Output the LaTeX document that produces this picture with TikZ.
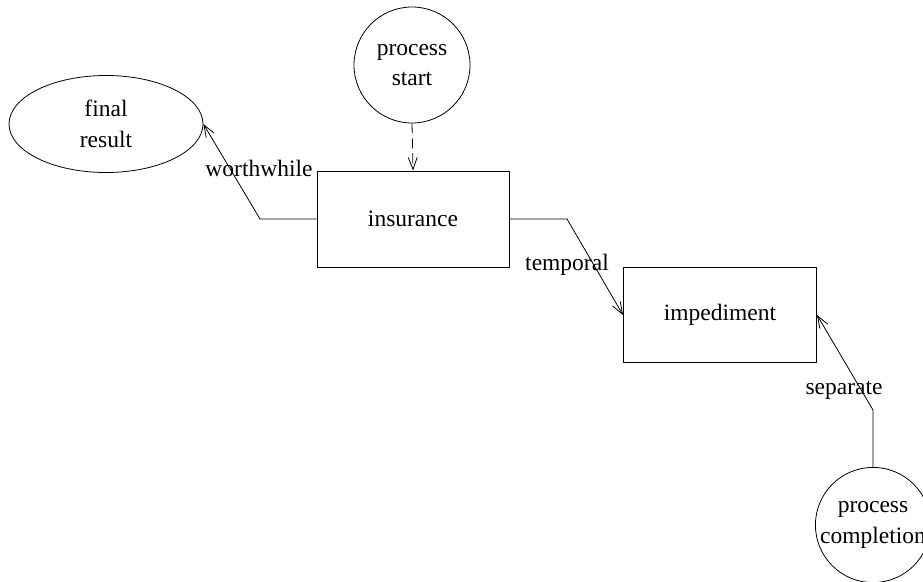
\documentclass[tikz,border=0pt]{standalone}
\usepackage{fontspec}
\setmainfont{Liberation Serif}
\usetikzlibrary{shapes.geometric,arrows.meta}
\begin{document}
\begin{tikzpicture}[x=1pt,y=-1pt,
  every node/.style={font=\fontsize{23.5}{30.5}\selectfont},
  boxnode/.style={draw, rectangle, line width=1pt, inner sep=0pt, minimum width=192pt, minimum height=96pt},
  circnode/.style={draw, circle, line width=0.8pt, inner sep=0pt, align=center},
  ellnode/.style={draw, ellipse, line width=0.8pt, inner sep=0pt, align=center, minimum width=194pt, minimum height=97pt},
  lbl/.style={inner sep=0pt},
  arr/.style={line width=0.8pt, -{Straight Barb[length=12pt,width=9pt]}},
  dasharr/.style={arr, dash pattern=on 10pt off 5pt}]
\useasboundingbox (0,0) rectangle (923,581);
\clip (0,0) rectangle (923,581);
\node[boxnode] (ins) at (413,219) {insurance};
\node[boxnode, minimum width=193pt, minimum height=95pt] (imp) at (720,315) {impediment};
\node[ellnode] (fin) at (106,124) {final\\result};
\node[circnode, minimum size=116pt] (ps) at (412,65) {process\\start};
\node[circnode, minimum size=114pt] (pc) at (873,525) {process\\completion};
\coordinate (c1) at (260,219);
\coordinate (c2) at (567,219);
\coordinate (c3) at (873,410);
\draw[arr] (ins.west) -- (c1) -- (fin.east);
\draw[dasharr] (ps.south) -- (ins.north);
\draw[arr] (ins.east) -- (c2) -- (imp.west);
\draw[arr] (pc.north) -- (c3) -- (imp.east);
\node[lbl] (lw) at (259,168) {worthwhile};
\node[lbl] (lt) at (567,265) {temporal};
\node[lbl] (ls) at (844,390) {separate};
\end{tikzpicture}
\end{document}
